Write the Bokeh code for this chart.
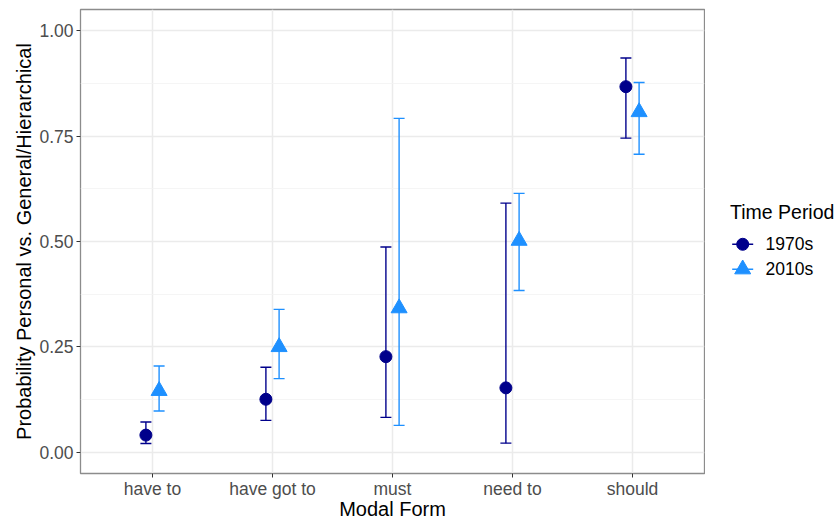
from bokeh.plotting import figure
from bokeh.layouts import row
from bokeh.models import (ColumnDataSource, Whisker, TeeHead, Range1d, FixedTicker,
                          NumeralTickFormatter)
from bokeh.core.properties import value
from bokeh.embed import file_html
from bokeh.resources import INLINE

# Modal forms and estimated probabilities (with confidence limits) per time period
categories = ["have to", "have got to", "must", "need to", "should"]

est_1970s = [0.041, 0.126, 0.227, 0.153, 0.867]
lo_1970s = [0.021, 0.076, 0.083, 0.022, 0.745]
hi_1970s = [0.072, 0.202, 0.487, 0.591, 0.935]

est_2010s = [0.146, 0.250, 0.342, 0.502, 0.807]
lo_2010s = [0.098, 0.175, 0.064, 0.384, 0.707]
hi_2010s = [0.205, 0.339, 0.792, 0.614, 0.877]

periods = ["1970s", "2010s"]
legend_title = "Time Period"

y_ticks = [0.0, 0.25, 0.5, 0.75, 1.0]
y_minor = [0.125, 0.375, 0.625, 0.875]

COL_70 = "#00008B"
COL_10 = "#1E90FF"
FONT = "Liberation Sans"
DODGE = 0.055

W, H = 835, 522
MAIN_W = 705
TOP, BOTTOM = 9, 48          # borders above and below the plotting frame

pos = [i + 1 for i in range(len(categories))]

src70 = ColumnDataSource(dict(x=[p - DODGE for p in pos], y=est_1970s,
                              lo=lo_1970s, hi=hi_1970s))
src10 = ColumnDataSource(dict(x=[p + DODGE for p in pos], y=est_2010s,
                              lo=lo_2010s, hi=hi_2010s))

p = figure(width=MAIN_W, height=H, output_backend="svg", toolbar_location=None,
           x_range=Range1d(0.4, 5.6), y_range=Range1d(-0.05, 1.05),
           min_border_left=80, min_border_right=1, min_border_top=TOP,
           min_border_bottom=BOTTOM)
p.background_fill_color = "white"
p.border_fill_color = "white"
p.outline_line_color = "#8c8c8c"
p.outline_line_width = 1.3

# error bars
for src, col in ((src70, COL_70), (src10, COL_10)):
    w = Whisker(base="x", upper="hi", lower="lo", source=src, dimension="height",
                line_color=col, line_width=1.4,
                upper_head=TeeHead(size=11, line_color=col, line_width=1.4),
                lower_head=TeeHead(size=11, line_color=col, line_width=1.4))
    p.add_layout(w)

p.scatter("x", "y", source=src70, marker="circle", size=12,
          fill_color=COL_70, line_color=COL_70)
p.scatter("x", "y", source=src10, marker="triangle", size=16,
          fill_color=COL_10, line_color=COL_10)

# axes
p.xaxis.ticker = FixedTicker(ticks=pos)
p.xaxis.major_label_overrides = {pp: c for pp, c in zip(pos, categories)}
p.yaxis.ticker = FixedTicker(ticks=y_ticks, minor_ticks=y_minor)
p.yaxis.formatter = NumeralTickFormatter(format="0.00")

p.xaxis.axis_label = "Modal Form"
p.yaxis.axis_label = "Probability Personal vs. General/Hierarchical"

for ax in (p.xaxis[0], p.yaxis[0]):
    ax.axis_line_color = None
    ax.major_tick_line_color = "#333333"
    ax.major_tick_out = 4
    ax.major_tick_in = 0
    ax.minor_tick_out = 0
    ax.minor_tick_in = 0
    ax.major_label_text_font = FONT
    ax.major_label_text_font_size = "17.5px"
    ax.major_label_text_color = "#4D4D4D"
    ax.axis_label_text_font = FONT
    ax.axis_label_text_font_size = "20px"
    ax.axis_label_text_font_style = "normal"
    ax.axis_label_text_color = "black"

p.xaxis.major_label_standoff = 1
p.xaxis.axis_label_standoff = -4
p.yaxis.major_label_standoff = 3
p.yaxis.axis_label_standoff = 1

# grid
p.xgrid.grid_line_color = "#EBEBEB"
p.xgrid.grid_line_width = 1.5
p.ygrid.grid_line_color = "#EBEBEB"
p.ygrid.grid_line_width = 1.5
p.ygrid.minor_grid_line_color = "#F2F2F2"
p.ygrid.minor_grid_line_width = 0.8

# legend panel: a blank strip to the right whose ranges follow screen pixels
leg = figure(width=W - MAIN_W, height=H, output_backend="svg", toolbar_location=None,
             x_range=Range1d(MAIN_W, W), y_range=Range1d(H - BOTTOM, TOP),
             min_border_left=0, min_border_right=0, min_border_top=TOP,
             min_border_bottom=BOTTOM, x_axis_type=None, y_axis_type=None)
leg.outline_line_color = None
leg.grid.visible = False
leg.background_fill_color = "white"
leg.border_fill_color = "white"

title_x, title_y = 729.5, 211.7
key_x0, key_x1 = 731.7, 752.7
label_x = 765
row_y = [244.3, 269.3]
key_cx = (key_x0 + key_x1) / 2

leg.text(x=[title_x], y=[title_y], text=[legend_title], text_font=value(FONT),
         text_font_size="19.5px", text_color="black", text_baseline="middle",
         text_align="left")
leg.segment(x0=[key_x0] * 2, x1=[key_x1] * 2, y0=row_y, y1=row_y,
            line_color=[COL_70, COL_10], line_width=1.4)
leg.scatter(x=[key_cx], y=[row_y[0]], marker="circle", size=12,
            fill_color=COL_70, line_color=COL_70)
leg.scatter(x=[key_cx], y=[row_y[1]], marker="triangle", size=16,
            fill_color=COL_10, line_color=COL_10)
leg.text(x=[label_x] * 2, y=row_y, text=periods, text_font=value(FONT),
         text_font_size="17.5px", text_color="black", text_baseline="middle",
         text_align="left")

layout = row(p, leg, spacing=0)

open("out.html", "w").write(file_html(layout, INLINE))
